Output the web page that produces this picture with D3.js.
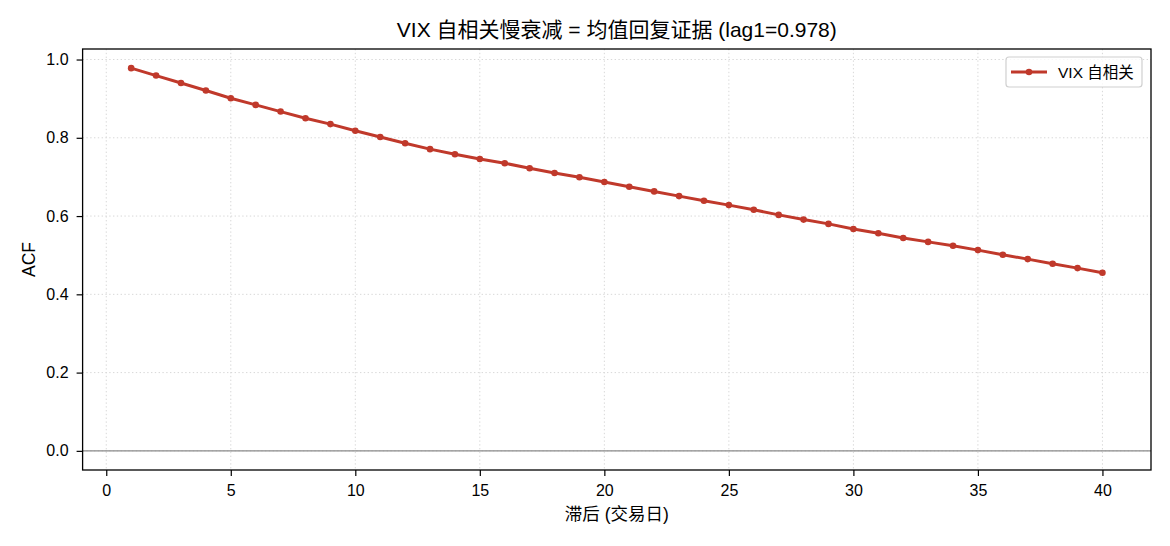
<!DOCTYPE html>
<html><head><meta charset="utf-8">
<script src="https://cdn.jsdelivr.net/npm/d3@7"></script>
<style>
body{margin:0;background:#fff;}
svg{display:block;font-family:"Liberation Sans","Noto Sans CJK SC",Arial,sans-serif;}
</style></head>
<body><svg id="chart" width="1170" height="546"></svg>
<script>
const lags = d3.range(1, 41);
const acfValues = [0.978,0.959,0.940,0.921,0.901,0.884,0.867,0.850,0.835,0.818,
  0.802,0.786,0.771,0.758,0.746,0.735,0.722,0.710,0.699,0.687,
  0.675,0.663,0.651,0.639,0.628,0.616,0.603,0.591,0.580,0.567,
  0.556,0.544,0.534,0.524,0.513,0.501,0.490,0.478,0.467,0.455];
const xTicks = [0,5,10,15,20,25,30,35,40];
const yTicks = [0.0,0.2,0.4,0.6,0.8,1.0];
const titleText = "VIX 自相关慢衰减 = 均值回复证据 (lag1=0.978)";
const xLabel = "滞后 (交易日)";
const yLabel = "ACF";
const legendLabel = "VIX 自相关";
const color = "#c0392b";

const data = lags.map((l,i)=>({lag:l, v:acfValues[i]}));
const svg = d3.select("#chart");
const L=82.6, R=1151, T=49, B=470;
const x = d3.scaleLinear().domain([-0.95, 41.95]).range([L, R]);
const y = d3.scaleLinear().domain([-0.0489, 1.0269]).range([B, T]);

// grid
const g = svg.append("g");
g.selectAll(".gx").data(xTicks).join("line")
  .attr("x1",d=>x(d)).attr("x2",d=>x(d)).attr("y1",T).attr("y2",B)
  .attr("stroke","#d8d8d8").attr("stroke-width",1).attr("stroke-dasharray","1.4,2.4");
g.selectAll(".gy").data(yTicks).join("line")
  .attr("y1",d=>y(d)).attr("y2",d=>y(d)).attr("x1",L).attr("x2",R)
  .attr("stroke","#d8d8d8").attr("stroke-width",1).attr("stroke-dasharray","1.4,2.4");

// zero line
svg.append("line").attr("x1",L).attr("x2",R).attr("y1",y(0)).attr("y2",y(0))
  .attr("stroke","#8a8a8a").attr("stroke-width",1.4);

// axes
const xAxis = svg.append("g").attr("transform",`translate(0,${B})`)
  .call(d3.axisBottom(x).tickValues(xTicks).tickSize(6).tickPadding(8.5).tickFormat(d3.format("d")));
const yAxis = svg.append("g").attr("transform",`translate(${L},0)`)
  .call(d3.axisLeft(y).tickValues(yTicks).tickSize(6).tickPadding(8).tickFormat(d3.format(".1f")));
[xAxis,yAxis].forEach(a=>{
  a.select(".domain").remove();
  a.selectAll("text").attr("font-size",16).attr("fill","#000").attr("font-family","Liberation Sans, Arial, sans-serif");
  a.selectAll("line").attr("stroke","#000").attr("stroke-width",1.2);
});
svg.append("rect").attr("x",L).attr("y",T).attr("width",R-L).attr("height",B-T)
  .attr("fill","none").attr("stroke","#000").attr("stroke-width",1.3);

// line
svg.append("path").datum(data)
  .attr("d", d3.line().x(d=>x(d.lag)).y(d=>y(d.v)))
  .attr("fill","none").attr("stroke",color).attr("stroke-width",3).attr("stroke-linejoin","round");
svg.selectAll(".pt").data(data).join("circle")
  .attr("cx",d=>x(d.lag)).attr("cy",d=>y(d.v)).attr("r",3.3).attr("fill",color);

// title & labels
svg.append("text").attr("x",(L+R)/2).attr("y",36.5).attr("text-anchor","middle")
  .attr("font-size",21).attr("fill","#000").text(titleText);
svg.append("text").attr("x",(L+R)/2).attr("y",520).attr("text-anchor","middle")
  .attr("font-size",17.5).attr("fill","#000").text(xLabel);
svg.append("text").attr("transform",`translate(34.5,${(T+B)/2}) rotate(-90)`).attr("text-anchor","middle")
  .attr("font-size",17.5).attr("fill","#000").text(yLabel);

// legend
const lg = svg.append("g");
lg.append("rect").attr("x",1006).attr("y",57).attr("width",136).attr("height",30).attr("rx",3)
  .attr("fill","#fff").attr("fill-opacity",0.8).attr("stroke","#d0d0d0").attr("stroke-width",1.2);
lg.append("line").attr("x1",1011).attr("x2",1047).attr("y1",72).attr("y2",72)
  .attr("stroke",color).attr("stroke-width",3);
lg.append("circle").attr("cx",1029).attr("cy",72).attr("r",3.3).attr("fill",color);
lg.append("text").attr("x",1058).attr("y",77.5).attr("font-size",15.5).attr("fill","#000").text(legendLabel);
</script></body></html>
